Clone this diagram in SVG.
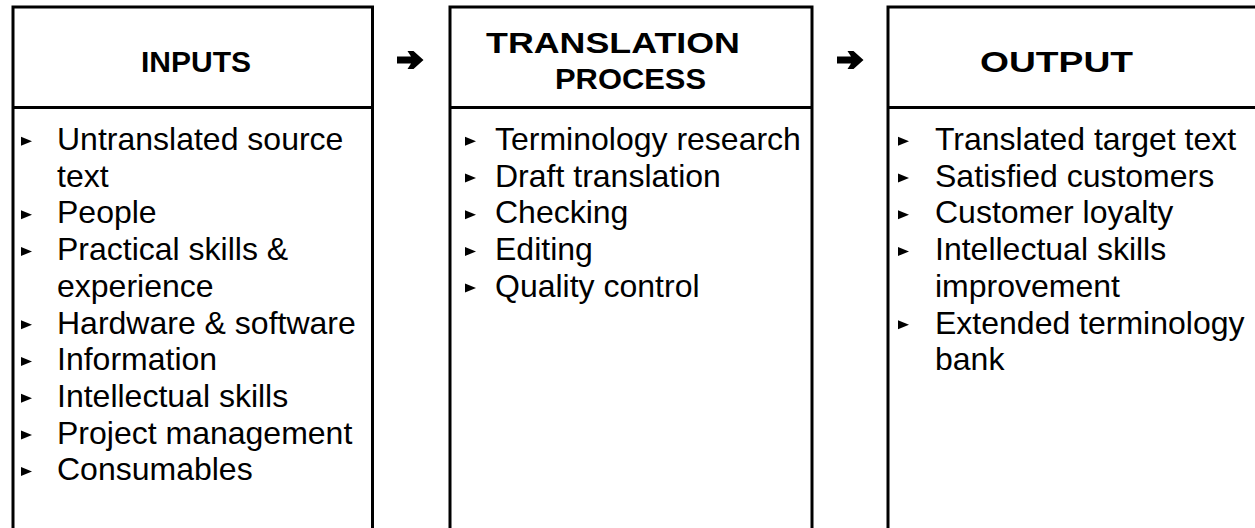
<svg xmlns="http://www.w3.org/2000/svg" xmlns:xlink="http://www.w3.org/1999/xlink" width="1255" height="528" viewBox="0 0 1255 528">
<style>
.box{fill:#fff;stroke:#000;stroke-width:3}
.div{stroke:#000;stroke-width:3}
.hd{font-family:"Liberation Sans",Arial,sans-serif;font-weight:bold;font-size:30px;fill:#000}
.it{font-family:"Liberation Sans",Arial,sans-serif;font-size:32px;fill:#000}
.arr{fill:#000}
</style>
<defs>
<path id="bul" d="M0,-13.2 L11,-8.7 L0,-4.2 Z" fill="#000"/>
</defs>
<rect width="1255" height="528" fill="#fff"/>
<g id="inputs">
<rect class="box" x="13" y="7" width="359.5" height="600"/>
<line class="div" x1="13" y1="107.5" x2="372.5" y2="107.5"/>
<text class="hd" x="196" y="72" text-anchor="middle">INPUTS</text>
<use xlink:href="#bul" x="21" y="150"/>
<text class="it" x="57" y="150">Untranslated source</text>
<text class="it" x="57" y="186.7">text</text>
<use xlink:href="#bul" x="21" y="223.4"/>
<text class="it" x="57" y="223.4">People</text>
<use xlink:href="#bul" x="21" y="260.1"/>
<text class="it" x="57" y="260.1">Practical skills &amp;</text>
<text class="it" x="57" y="296.8">experience</text>
<use xlink:href="#bul" x="21" y="333.5"/>
<text class="it" x="57" y="333.5">Hardware &amp; software</text>
<use xlink:href="#bul" x="21" y="370.2"/>
<text class="it" x="57" y="370.2">Information</text>
<use xlink:href="#bul" x="21" y="406.9"/>
<text class="it" x="57" y="406.9">Intellectual skills</text>
<use xlink:href="#bul" x="21" y="443.6"/>
<text class="it" x="57" y="443.6">Project management</text>
<use xlink:href="#bul" x="21" y="480.3"/>
<text class="it" x="57" y="480.3">Consumables</text>
</g>
<g id="process">
<rect class="box" x="450" y="7" width="362" height="600"/>
<line class="div" x1="450" y1="107.5" x2="812" y2="107.5"/>
<text class="hd" x="486" y="53.3" textLength="254" lengthAdjust="spacingAndGlyphs">TRANSLATION</text>
<text class="hd" x="555" y="89.3" textLength="151" lengthAdjust="spacingAndGlyphs">PROCESS</text>
<use xlink:href="#bul" x="465" y="150"/>
<text class="it" x="495" y="150">Terminology research</text>
<use xlink:href="#bul" x="465" y="186.7"/>
<text class="it" x="495" y="186.7">Draft translation</text>
<use xlink:href="#bul" x="465" y="223.4"/>
<text class="it" x="495" y="223.4">Checking</text>
<use xlink:href="#bul" x="465" y="260.1"/>
<text class="it" x="495" y="260.1">Editing</text>
<use xlink:href="#bul" x="465" y="296.8"/>
<text class="it" x="495" y="296.8">Quality control</text>
</g>
<g id="output">
<rect class="box" x="888" y="7" width="500" height="600"/>
<line class="div" x1="888" y1="107.5" x2="1388" y2="107.5"/>
<text class="hd" x="980" y="72" textLength="153" lengthAdjust="spacingAndGlyphs">OUTPUT</text>
<use xlink:href="#bul" x="898" y="150"/>
<text class="it" x="935" y="150">Translated target text</text>
<use xlink:href="#bul" x="898" y="186.7"/>
<text class="it" x="935" y="186.7">Satisfied customers</text>
<use xlink:href="#bul" x="898" y="223.4"/>
<text class="it" x="935" y="223.4">Customer loyalty</text>
<use xlink:href="#bul" x="898" y="260.1"/>
<text class="it" x="935" y="260.1">Intellectual skills</text>
<text class="it" x="935" y="296.8">improvement</text>
<use xlink:href="#bul" x="898" y="333.5"/>
<text class="it" x="935" y="333.5">Extended terminology</text>
<text class="it" x="935" y="370.2">bank</text>
</g>
<g id="connectors">
<path class="arr" d="M397,56.5 H411 L407.5,51 H413.5 L423.5,60 L413.5,69 H407.5 L411,63.5 H397 Z"/>
<path class="arr" d="M837,56.5 H851 L847.5,51 H853.5 L863.5,60 L853.5,69 H847.5 L851,63.5 H837 Z"/>
</g>
</svg>
